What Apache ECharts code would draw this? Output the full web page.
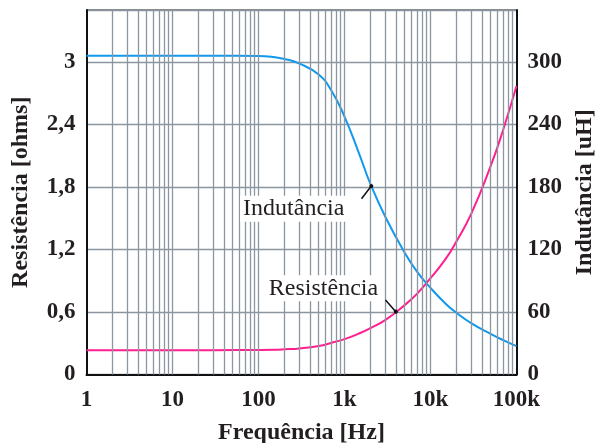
<!DOCTYPE html>
<html>
<head>
<meta charset="utf-8">
<script src="https://cdn.jsdelivr.net/npm/echarts@6/dist/echarts.min.js"></script>
<style>
  html, body { margin: 0; padding: 0; background: #fff; }
  #chart { width: 598px; height: 443px; }
</style>
</head>
<body>
<div id="chart"></div>
<script>
// Sampled frequencies (Hz) shared by both curves
const freq = [1, 10, 30, 100, 150, 200, 300, 500, 700, 1000, 1500, 2000, 3000, 5000, 7000, 10000, 15000, 20000, 30000, 50000, 70000, 100000];

// Resistance (ohms) of the winding
const resistance = [0.234, 0.234, 0.234, 0.236, 0.238, 0.242, 0.25, 0.273, 0.303, 0.34, 0.396, 0.445, 0.525, 0.666, 0.777, 0.925, 1.11, 1.277, 1.55, 2.0, 2.35, 2.77];

// Inductance (uH)
const inductance = [306, 306, 306, 305.8, 304.8, 303, 298.5, 288, 273, 247.7, 210.7, 183, 151, 117, 98.5, 83.2, 68, 59.3, 49, 39, 33, 27.2];

// Tick labels
const freqTicks = { 1: '1', 10: '10', 100: '100', 1000: '1k', 10000: '10k', 100000: '100k' };
const gridFreqs = [];
for (let d = 1; d < 100000; d *= 10) {
  for (let m = 1; m <= 9; m++) {
    if (d * m > 1) gridFreqs.push(d * m);
  }
}

const serif = 'Liberation Serif';
const ink = '#231f20';
const gridColor = '#8b96a1';

const chart = echarts.init(document.getElementById('chart'));
chart.setOption({
  backgroundColor: '#fff',
  animation: false,
  grid: {
    left: 86.5, right: 81.5, top: 10, bottom: 68.5,
    outerBoundsMode: 'none', containLabel: false,
    show: true, borderColor: '#111', borderWidth: 1
  },
  xAxis: {
    type: 'log', logBase: 10, min: 1, max: 100000, splitNumber: 5,
    name: 'Frequência [Hz]', nameLocation: 'middle', nameGap: 46,
    nameTextStyle: { fontFamily: serif, fontWeight: 'bold', fontSize: 24, color: ink },
    axisLine: { show: true, lineStyle: { color: '#111', width: 2 } },
    axisTick: { show: false },
    splitLine: { show: false },
    axisLabel: {
      fontFamily: serif, fontWeight: 'bold', fontSize: 23, color: ink, margin: 14,
      formatter: v => freqTicks[Math.round(v)] || ''
    }
  },
  yAxis: [
    {
      type: 'value', min: 0, max: 3.5, interval: 0.6, position: 'left',
      name: 'Resistência [ohms]', nameLocation: 'middle', nameGap: 54, nameRotate: 90,
      nameTextStyle: { fontFamily: serif, fontWeight: 'bold', fontSize: 24, color: ink },
      axisLine: { show: true, lineStyle: { color: '#111', width: 2 } },
      axisTick: { show: false },
      splitLine: { show: true, lineStyle: { color: gridColor, width: 1.3 } },
      axisLabel: {
        fontFamily: serif, fontWeight: 'bold', fontSize: 23, color: ink, margin: 11,
        showMaxLabel: false,
        formatter: v => (+v.toFixed(1)).toString().replace('.', ',')
      }
    },
    {
      type: 'value', min: 0, max: 350, interval: 60, position: 'right',
      name: 'Indutância [uH]', nameLocation: 'middle', nameGap: 56, nameRotate: 90,
      nameTextStyle: { fontFamily: serif, fontWeight: 'bold', fontSize: 24, color: ink },
      axisLine: { show: true, lineStyle: { color: '#111', width: 2 } },
      axisTick: { show: false },
      splitLine: { show: false },
      axisLabel: {
        fontFamily: serif, fontWeight: 'bold', fontSize: 23, color: ink, margin: 11,
        showMaxLabel: false
      }
    }
  ],
  series: [
    {
      // vertical log grid
      type: 'line', data: [], z: 1, silent: true,
      markLine: {
        silent: true, symbol: ['none', 'none'], label: { show: false },
        lineStyle: { color: gridColor, width: 1.3, type: 'solid' },
        data: gridFreqs.map(f => ({ xAxis: f }))
      }
    },
    {
      name: 'Resistência', type: 'line', yAxisIndex: 0, z: 3,
      data: freq.map((f, i) => [f, resistance[i]]),
      smooth: 0.5, showSymbol: false,
      lineStyle: { color: '#ff1f8f', width: 2 },
      markLine: {
        silent: true, symbol: ['none', 'circle'], symbolSize: 4, label: { show: false },
        lineStyle: { color: '#111', width: 1.5, type: 'solid' },
        data: [[{ coord: [3000, 0.716] }, { coord: [3950, 0.603] }]]
      },
      markPoint: {
        silent: true, symbol: 'rect', symbolSize: 0,
        data: [{ coord: [570, 0.828] }],
        label: {
          show: true, position: 'inside', formatter: 'Resistência',
          fontFamily: serif, fontSize: 24, color: ink,
          backgroundColor: '#fff', padding: [1, 3]
        }
      }
    },
    {
      name: 'Indutância', type: 'line', yAxisIndex: 1, z: 3,
      data: freq.map((f, i) => [f, inductance[i]]),
      smooth: 0.5, showSymbol: false,
      lineStyle: { color: '#1199ee', width: 2 },
      markLine: {
        silent: true, symbol: ['none', 'circle'], symbolSize: 4, label: { show: false },
        lineStyle: { color: '#111', width: 1.5, type: 'solid' },
        data: [[{ coord: [1577, 168.8] }, { coord: [2050, 181] }]]
      },
      markPoint: {
        silent: true, symbol: 'rect', symbolSize: 0,
        data: [{ coord: [257, 159.2] }],
        label: {
          show: true, position: 'inside', formatter: 'Indutância',
          fontFamily: serif, fontSize: 24, color: ink,
          backgroundColor: '#fff', padding: [1, 3]
        }
      }
    }
  ]
});
</script>
</body>
</html>
